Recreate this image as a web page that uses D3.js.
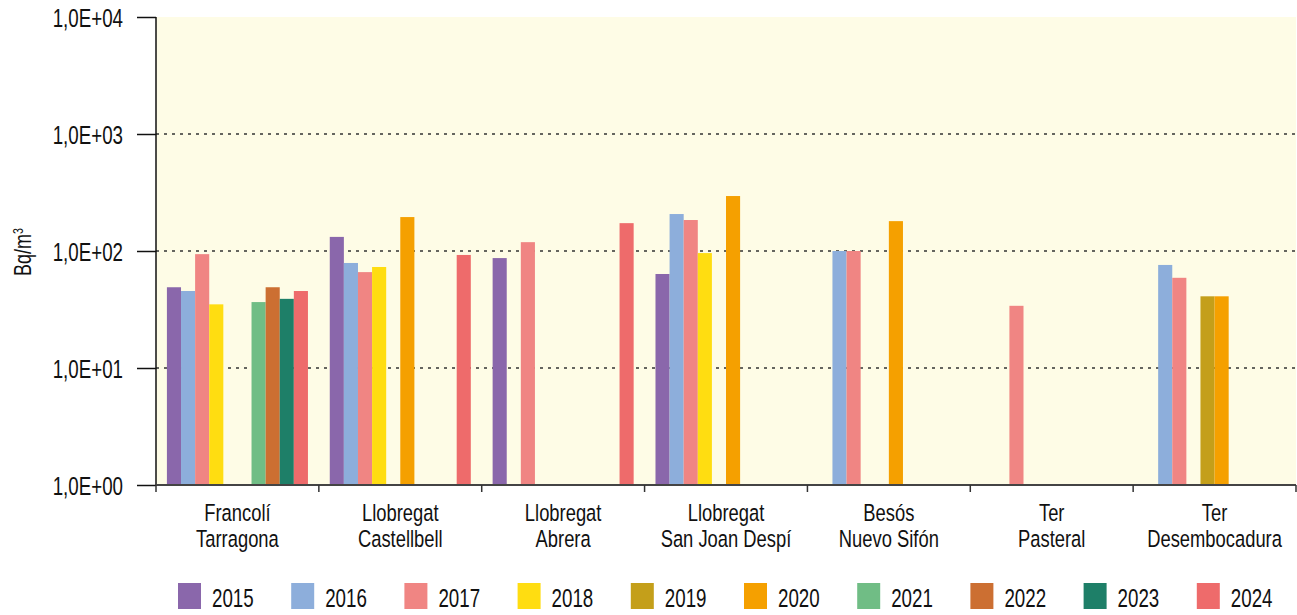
<!DOCTYPE html>
<html>
<head>
<meta charset="utf-8">
<script src="https://cdn.jsdelivr.net/npm/d3@7"></script>
<style>
  html, body { margin: 0; padding: 0; background: #ffffff; }
  svg { display: block; }
  text { font-family: "Liberation Sans", Arial, sans-serif; fill: #111; }
</style>
</head>
<body>
<svg id="chart" width="1297" height="615"></svg>
<script>
// Sampling stations (two-line labels)
const categories = [
  ["Francolí", "Tarragona"],
  ["Llobregat", "Castellbell"],
  ["Llobregat", "Abrera"],
  ["Llobregat", "San Joan Despí"],
  ["Besós", "Nuevo Sifón"],
  ["Ter", "Pasteral"],
  ["Ter", "Desembocadura"]
];

const years = ["2015", "2016", "2017", "2018", "2019", "2020", "2021", "2022", "2023", "2024"];

// Activity concentration per year and station (Bq/m³); null = no value
const v2015 = [49, 132, 87, 63.6, null, null, null];
const v2016 = [45.5, 79, null, 207, 100, null, 76];
const v2017 = [94, 66, 119, 184, 100, 34, 59];
const v2018 = [35, 73, null, 96, null, null, null];
const v2019 = [null, null, null, null, null, null, 41];
const v2020 = [null, 195, null, 295, 180, null, 41];
const v2021 = [36.6, null, null, null, null, null, null];
const v2022 = [49, null, null, null, null, null, null];
const v2023 = [39, null, null, null, null, null, null];
const v2024 = [45.5, 92.5, 173, null, null, null, null];

const seriesValues = [v2015, v2016, v2017, v2018, v2019, v2020, v2021, v2022, v2023, v2024];

const yTickValues = [1, 10, 100, 1000, 10000];
const yTickLabels = ["1,0E+00", "1,0E+01", "1,0E+02", "1,0E+03", "1,0E+04"];

const colors = ["#8a67ab", "#8daedb", "#f08583", "#ffdd11", "#c49f1a",
                "#f5a000", "#70bd85", "#cc6f32", "#1e7f68", "#ee6b6b"];

// Horizontal compression giving a tall, narrow typeface look
const NARROW = 0.75;

const svg = d3.select("#chart");
const margin = { left: 156, top: 17, right: 1296, bottom: 485 };

const x0 = d3.scaleBand()
  .domain(d3.range(categories.length))
  .range([margin.left, margin.right])
  .paddingInner(0.134)
  .paddingOuter(0.067);

const x1 = d3.scaleBand()
  .domain(years)
  .range([0, x0.bandwidth()])
  .padding(0);

const y = d3.scaleLog()
  .domain([1, 10000])
  .range([margin.bottom, margin.top]);

const color = d3.scaleOrdinal().domain(years).range(colors);

// Plot background
svg.append("rect")
  .attr("x", margin.left)
  .attr("y", margin.top)
  .attr("width", margin.right - margin.left)
  .attr("height", margin.bottom - margin.top)
  .attr("fill", "#fefce6");

// Dotted grid at decades
svg.append("g")
  .selectAll("line")
  .data(yTickValues.filter(d => d > 1 && d < 10000))
  .join("line")
  .attr("x1", margin.left)
  .attr("x2", margin.right)
  .attr("y1", d => y(d))
  .attr("y2", d => y(d))
  .attr("stroke", "#333")
  .attr("stroke-width", 1.5)
  .attr("stroke-dasharray", "3,5");

// Bars
const barData = [];
years.forEach((yr, i) => {
  seriesValues[i].forEach((v, c) => {
    if (v != null) barData.push({ year: yr, cat: c, value: v });
  });
});

svg.append("g")
  .selectAll("rect")
  .data(barData)
  .join("rect")
  .attr("x", d => x0(d.cat) + x1(d.year))
  .attr("width", x1.bandwidth())
  .attr("y", d => y(d.value))
  .attr("height", d => y(1) - y(d.value))
  .attr("fill", d => color(d.year));

// Y axis
const yAxis = d3.axisLeft(y)
  .tickValues(yTickValues)
  .tickFormat((d, i) => yTickLabels[i])
  .tickSize(19)
  .tickPadding(14);

const gy = svg.append("g")
  .attr("transform", `translate(${margin.left},0)`)
  .call(yAxis);
gy.select(".domain").attr("stroke", "#111").attr("stroke-width", 1.5)
  .attr("d", `M0,${margin.top}V${margin.bottom}`);
gy.selectAll(".tick line").attr("stroke", "#111").attr("stroke-width", 1.5);
gy.selectAll(".tick text")
  .style("font-size", "25px")
  .attr("fill", "#111")
  .attr("x", 0)
  .attr("dy", "0.36em")
  .attr("transform", `translate(-33,0) scale(${NARROW},1)`);

// X axis baseline and boundary ticks
const gx = svg.append("g");
gx.append("line")
  .attr("x1", margin.left)
  .attr("x2", margin.right)
  .attr("y1", margin.bottom)
  .attr("y2", margin.bottom)
  .attr("stroke", "#444")
  .attr("stroke-width", 2);

const step = x0.step();
const boundaries = d3.range(categories.length + 1).map(i => margin.left + i * step);
gx.selectAll("line.tick")
  .data(boundaries)
  .join("line")
  .attr("class", "tick")
  .attr("x1", d => d)
  .attr("x2", d => d)
  .attr("y1", margin.bottom)
  .attr("y2", margin.bottom + 7)
  .attr("stroke", "#333")
  .attr("stroke-width", 1.5);

// Category labels
gx.selectAll("text.cat")
  .data(categories)
  .join("text")
  .attr("class", "cat")
  .attr("text-anchor", "middle")
  .style("font-size", "24.5px")
  .attr("transform", (d, i) => `translate(${x0(i) + x0.bandwidth() / 2},0) scale(${NARROW},1)`)
  .each(function (d) {
    const t = d3.select(this);
    t.append("tspan").attr("x", 0).attr("y", 521).text(d[0]);
    t.append("tspan").attr("x", 0).attr("y", 547).text(d[1]);
  });

// Y axis title
svg.append("text")
  .attr("transform", `translate(31,252) rotate(-90) scale(${NARROW},1)`)
  .attr("text-anchor", "middle")
  .style("font-size", "24px")
  .text("Bq/m")
  .append("tspan")
  .attr("dy", "-0.55em")
  .style("font-size", "14px")
  .text("3");

// Legend
const legendX = d3.scaleLinear().domain([0, 1]).range([178, 178 + 113.2]);
const lg = svg.append("g")
  .selectAll("g")
  .data(years)
  .join("g")
  .attr("transform", (d, i) => `translate(${legendX(i)},583)`);
lg.append("rect")
  .attr("width", 23)
  .attr("height", 26)
  .attr("fill", d => color(d));
lg.append("text")
  .attr("transform", `translate(34,24) scale(${NARROW},1)`)
  .style("font-size", "25px")
  .text(d => d);
</script>
</body>
</html>
